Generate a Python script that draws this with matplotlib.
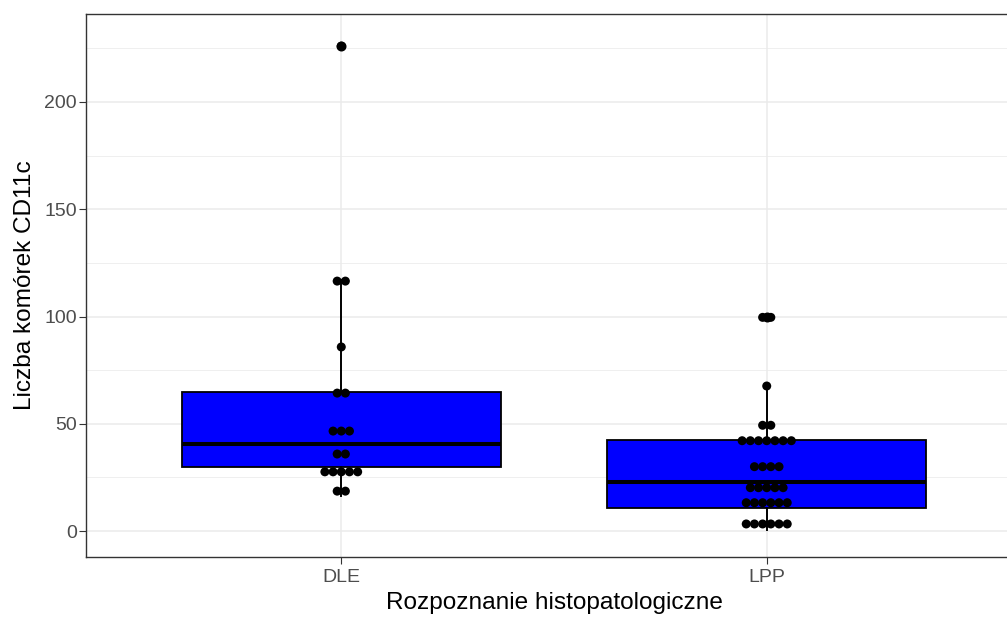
import numpy as np
import matplotlib.pyplot as plt

plt.rcParams['font.family'] = ['Liberation Sans', 'DejaVu Sans']

groups = ["DLE", "LPP"]

# stacked dot levels (bin centres) and how many dots sit in each stack
dle_levels = [18.6, 27.6, 35.9, 46.6, 64.3, 85.8, 116.5, 226.0]
dle_counts = [2, 5, 2, 3, 2, 1, 2, 1]
lpp_levels = [3.3, 13.2, 20.2, 30.0, 42.1, 49.3, 67.6, 99.6]
lpp_counts = [6, 6, 5, 4, 7, 2, 1, 2]

# box summaries: lower whisker, Q1, median, Q3, upper whisker, outliers
dle_box = [16.1, 29.8, 40.5, 64.9, 117.0]
lpp_box = [0.5, 10.9, 23.0, 42.6, 67.6]
dle_out = [226.0]
lpp_out = [99.6]

W, H = 1007, 617
fig = plt.figure(figsize=(W / 100, H / 100), dpi=100)
ax = fig.add_axes([86 / W, (H - 557) / H, (1022 - 86) / W, (557 - 14) / H])

xlim = (0.4, 2.6)
ax.set_xlim(*xlim)
ax.set_ylim(-12.1, 241.0)

stats = []
for pos, b, out in zip([1, 2], [dle_box, lpp_box], [dle_out, lpp_out]):
    stats.append(dict(whislo=b[0], q1=b[1], med=b[2], q3=b[3], whishi=b[4], fliers=out))

ax.bxp(stats, positions=[1, 2], widths=0.75, patch_artist=True, showcaps=False,
       boxprops=dict(facecolor="#0000FF", edgecolor="black", linewidth=1.3),
       medianprops=dict(color="black", linewidth=2.9),
       whiskerprops=dict(color="black", linewidth=1.4),
       flierprops=dict(marker="o", markerfacecolor="black", markeredgecolor="black",
                       markersize=6.2),
       zorder=2)

# centred dot stacks
px_per_unit = ax.get_position().width * W / (xlim[1] - xlim[0])
step = 8.2 / px_per_unit
for pos, levels, counts in zip([1, 2], [dle_levels, lpp_levels], [dle_counts, lpp_counts]):
    xs, ys = [], []
    for y, n in zip(levels, counts):
        offs = (np.arange(n) - (n - 1) / 2) * step
        xs.extend(pos + offs)
        ys.extend([y] * n)
    ax.scatter(xs, ys, s=42, color="black", edgecolors="none", zorder=4)

ax.set_xticks([1, 2])
ax.set_xticklabels(groups)
ax.set_yticks([0, 50, 100, 150, 200])
ax.set_yticks([25, 75, 125, 175, 225], minor=True)

ax.grid(True, which="major", color="#EBEBEB", linewidth=1.1, zorder=0)
ax.grid(True, which="minor", axis="y", color="#EBEBEB", linewidth=0.55, zorder=0)
ax.set_axisbelow(True)

ax.tick_params(axis="both", which="major", length=5, width=0.8, color="#333333",
               labelcolor="#4D4D4D", labelsize=14, pad=1.5)
ax.tick_params(axis="x", which="major", pad=3.5)
ax.tick_params(axis="both", which="minor", length=0)
for sp in ax.spines.values():
    sp.set_color("#333333")
    sp.set_linewidth(1.0)

ax.set_xlabel("Rozpoznanie histopatologiczne", fontsize=17.6, color="black", labelpad=4.5)
ax.set_ylabel("Liczba komórek CD11c", fontsize=17.6, color="black", labelpad=6)

fig.savefig("out.png", dpi=100)
